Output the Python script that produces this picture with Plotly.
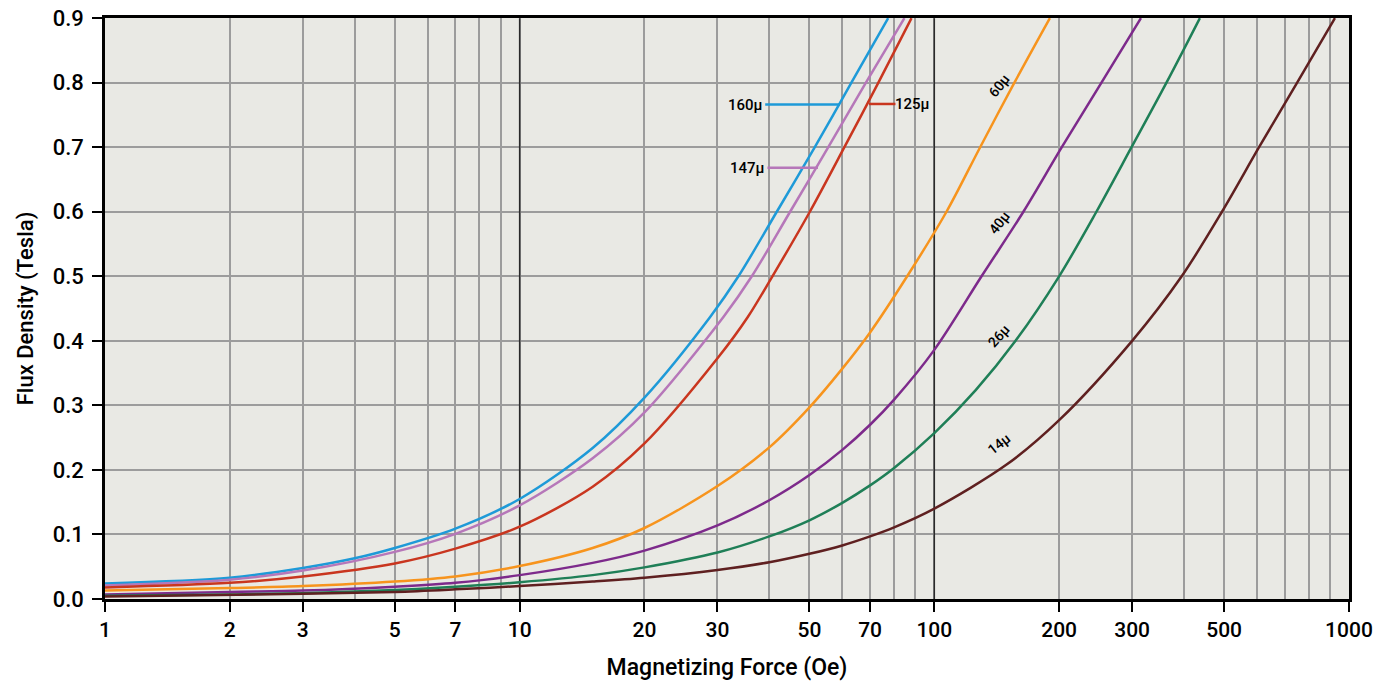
import numpy as np
import plotly.graph_objects as go

# ---- data ----
x_160 = [1, 2, 3, 4, 5, 7, 10, 15, 20, 28.8, 33.7, 41.7, 51.5, 63.1, 77.4]
y_160 = [0.024, 0.033, 0.048, 0.063, 0.079, 0.109, 0.155, 0.234, 0.312, 0.437, 0.5, 0.6, 0.7, 0.8, 0.9]

x_147 = [1, 2, 3, 5, 7, 10, 15, 20, 31, 36.3, 44.9, 55.5, 68.4, 84.7]
y_147 = [0.021, 0.030, 0.044, 0.073, 0.101, 0.145, 0.218, 0.289, 0.437, 0.5, 0.6, 0.7, 0.8, 0.9]

x_125 = [1, 2, 3, 5, 7, 10, 15, 20, 30, 35.5, 40.7, 50.1, 60.7, 73.3, 88.1]
y_125 = [0.018, 0.025, 0.035, 0.055, 0.078, 0.112, 0.174, 0.241, 0.373, 0.437, 0.5, 0.6, 0.7, 0.8, 0.9]

x_60 = [1, 2, 3, 5, 7, 10, 15, 20, 30, 40, 50, 60, 70, 86, 107, 129, 156, 190]
y_60 = [0.013, 0.017, 0.020, 0.027, 0.035, 0.051, 0.079, 0.110, 0.175, 0.235, 0.297, 0.357, 0.413, 0.5, 0.6, 0.7, 0.8, 0.9]

x_40 = [1, 2, 3, 5, 7, 10, 15, 20, 30, 40, 50, 60, 70, 80, 100, 130, 164, 203, 253, 315]
y_40 = [0.007, 0.011, 0.013, 0.019, 0.025, 0.037, 0.056, 0.075, 0.114, 0.153, 0.192, 0.231, 0.270, 0.309, 0.386, 0.5, 0.6, 0.7, 0.8, 0.9]

x_26 = [1, 2, 3, 5, 7, 10, 15, 20, 30, 40, 50, 60, 70, 80, 100, 126, 157, 200, 246, 299, 363, 437]
y_26 = [0.005, 0.007, 0.009, 0.014, 0.019, 0.026, 0.037, 0.049, 0.072, 0.097, 0.122, 0.149, 0.176, 0.203, 0.257, 0.324, 0.4, 0.5, 0.6, 0.7, 0.8, 0.9]

x_14 = [1, 3, 5, 7, 10, 15, 20, 30, 40, 50, 60, 70, 80, 100, 150, 200, 300, 395, 494, 607, 750, 925]
y_14 = [0.004, 0.008, 0.011, 0.015, 0.020, 0.027, 0.033, 0.045, 0.057, 0.070, 0.083, 0.097, 0.111, 0.140, 0.209, 0.277, 0.400, 0.5, 0.6, 0.7, 0.8, 0.9]

x_ticks = [1, 2, 3, 5, 7, 10, 20, 30, 50, 70, 100, 200, 300, 500, 1000]
x_minor = [4, 6, 8, 9, 40, 60, 80, 90, 400, 600, 700, 800, 900]
y_ticks = [0.0, 0.1, 0.2, 0.3, 0.4, 0.5, 0.6, 0.7, 0.8, 0.9]

series = [
    ("160\u03bc", x_160, y_160, "#1e9ad8"),
    ("147\u03bc", x_147, y_147, "#b677b9"),
    ("125\u03bc", x_125, y_125, "#c9361f"),
    ("60\u03bc", x_60, y_60, "#f7941d"),
    ("40\u03bc", x_40, y_40, "#7d2a8b"),
    ("26\u03bc", x_26, y_26, "#1f7f57"),
    ("14\u03bc", x_14, y_14, "#5f2020"),
]

# leader-line labels: (text, x_start, x_end, y, colour, side)
leaders = [
    ("160\u03bc", 39.1, 59.2, 0.766, "#1e9ad8", "left"),
    ("147\u03bc", 39.6, 52.4, 0.668, "#b677b9", "left"),
    ("125\u03bc", 69.6, 80.6, 0.767, "#c9361f", "right"),
]
# rotated labels: (text, x, y, angle)
rot_labels = [
    ("60\u03bc", 143, 0.795, -52),
    ("40\u03bc", 143, 0.583, -52),
    ("26\u03bc", 143, 0.407, -48),
    ("14\u03bc", 143, 0.240, -38),
]

FONT = "Roboto, Liberation Sans Narrow, sans-serif"

fig = go.Figure()

# decade lines
for d in [10, 100]:
    fig.add_trace(go.Scatter(x=[d, d], y=[0, 0.9], mode="lines",
                             line=dict(color="#2a2a2a", width=1.5),
                             hoverinfo="skip", showlegend=False))

for name, xs, ys, col in series:
    fig.add_trace(go.Scatter(x=xs, y=ys, mode="lines", name=name,
                             line=dict(color=col, width=2.5, shape="spline", smoothing=0.9),
                             showlegend=False))

annotations = []
for text, xa, xb, yv, col, side in leaders:
    fig.add_trace(go.Scatter(x=[xa, xb], y=[yv, yv], mode="lines",
                             line=dict(color=col, width=2.5),
                             hoverinfo="skip", showlegend=False))
    if side == "left":
        annotations.append(dict(x=np.log10(xa), y=yv, xref="x", yref="y", text=text,
                                showarrow=False, xanchor="right", yanchor="middle",
                                xshift=0, font=dict(family=FONT, size=15, weight=500, color="black")))
    else:
        annotations.append(dict(x=np.log10(xb), y=yv, xref="x", yref="y", text=text,
                                showarrow=False, xanchor="left", yanchor="middle",
                                xshift=-2, font=dict(family=FONT, size=15, weight=500, color="black")))

for text, xv, yv, ang in rot_labels:
    annotations.append(dict(x=np.log10(xv), y=yv, xref="x", yref="y", text=text,
                            showarrow=False, textangle=ang,
                            font=dict(family=FONT, size=14, weight=500, color="black")))

fig.update_layout(
    width=1376, height=687,
    margin=dict(l=105, r=27, t=18, b=88),
    paper_bgcolor="white",
    plot_bgcolor="#e9e9e4",
    font=dict(family=FONT, color="black", size=21),
    annotations=annotations,
    xaxis=dict(
        type="log", range=[0, 3.0001], automargin=False,
        tickvals=x_ticks, ticktext=[str(v) for v in x_ticks],
        ticklabeloverflow="allow",
        showgrid=True, gridcolor="#9c9c9c", gridwidth=1.5,
        minor=dict(tickvals=x_minor, showgrid=True, gridcolor="#9c9c9c", gridwidth=1.5, ticklen=0),
        ticks="outside", ticklen=10, tickwidth=1.5, tickcolor="black",
        showline=True, linecolor="black", linewidth=2.5, mirror=True,
        zeroline=False,
        title=dict(text="Magnetizing Force (Oe)", font=dict(size=23, weight=500), standoff=18),
        tickfont=dict(size=21, weight=500),
    ),
    yaxis=dict(
        range=[0, 0.9002], tickvals=y_ticks, tickformat=".1f", automargin=False,
        ticklabeloverflow="allow",
        showgrid=True, gridcolor="#9c9c9c", gridwidth=1.5,
        ticks="outside", ticklen=10, tickwidth=1.5, tickcolor="black",
        ticklabelstandoff=4,
        showline=True, linecolor="black", linewidth=2.5, mirror=True,
        zeroline=False,
        title=dict(text="Flux Density (Tesla)", font=dict(size=22, weight=500), standoff=14),
        tickfont=dict(size=22, weight=500),
    ),
)

fig.write_html("out.html", config={"displayModeBar": False},
               post_script="document.body.style.margin='0px';")
